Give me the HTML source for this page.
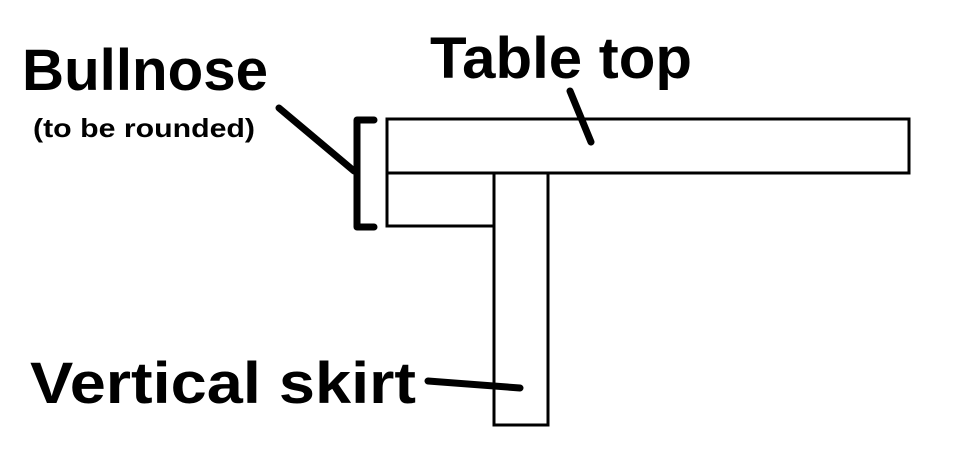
<!DOCTYPE html>
<html><head><meta charset="utf-8"><style>html,body{margin:0;padding:0;background:#fff;width:962px;height:456px;overflow:hidden}</style></head>
<body>
<svg width="962" height="456" viewBox="0 0 962 456" font-family="'Comic Sans MS','Liberation Sans',sans-serif" font-weight="bold">
<rect x="387" y="119" width="522" height="54" fill="#fff" stroke="#000" stroke-width="3"/>
<rect x="387" y="173" width="107" height="53" fill="#fff" stroke="#000" stroke-width="3"/>
<rect x="494" y="173" width="54" height="252" fill="#fff" stroke="#000" stroke-width="3"/>
<path d="M374 120 H357 V227 H374" fill="none" stroke="#000" stroke-width="7" stroke-linecap="round" stroke-linejoin="round"/>
<line x1="279" y1="108" x2="354" y2="171" stroke="#000" stroke-width="7" stroke-linecap="round"/>
<line x1="570" y1="91" x2="591" y2="142" stroke="#000" stroke-width="7" stroke-linecap="round"/>
<line x1="428" y1="381" x2="520" y2="388" stroke="#000" stroke-width="7" stroke-linecap="round"/>
<text x="22" y="90" font-size="58" textLength="246" lengthAdjust="spacingAndGlyphs">Bullnose</text>
<text x="33" y="137" font-size="26" textLength="222" lengthAdjust="spacingAndGlyphs">(to be rounded)</text>
<text x="430" y="78" font-size="58" textLength="262" lengthAdjust="spacingAndGlyphs">Table top</text>
<text x="30" y="403" font-size="58" textLength="386" lengthAdjust="spacingAndGlyphs">Vertical skirt</text>
</svg>
</body></html>
